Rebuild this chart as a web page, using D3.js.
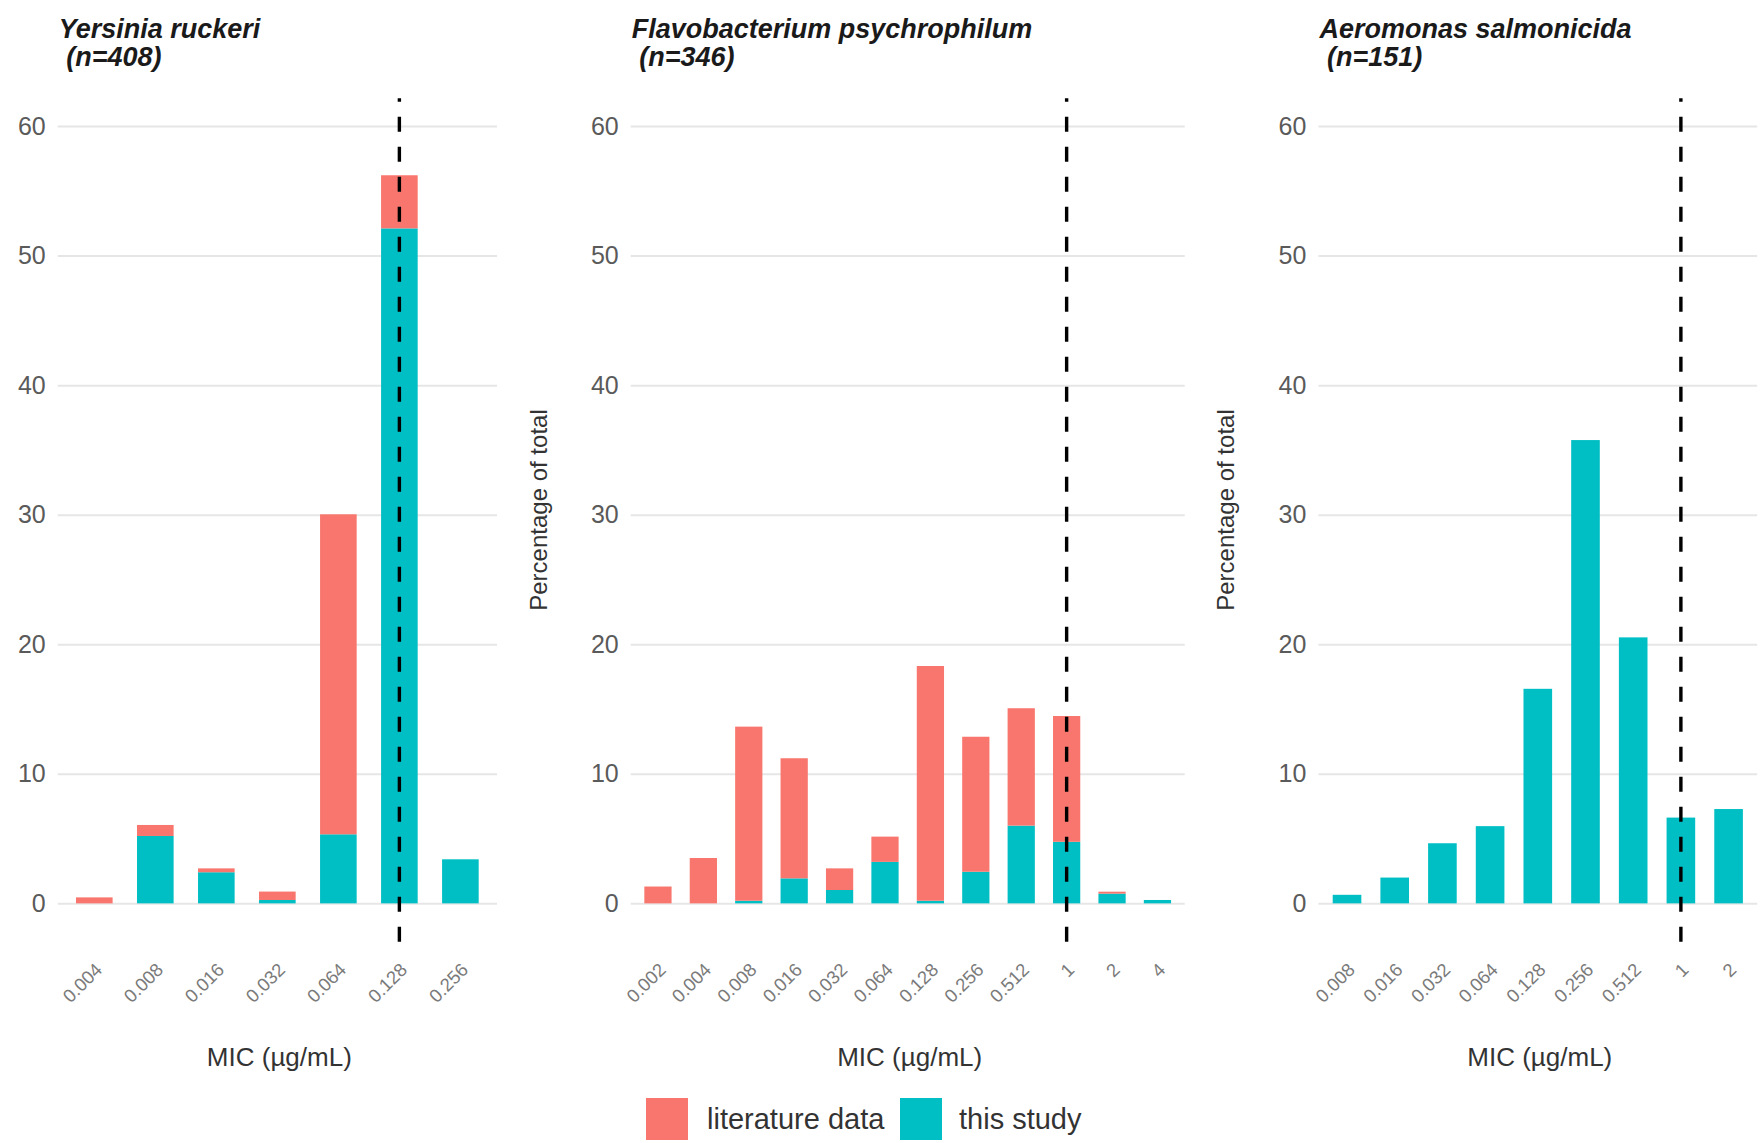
<!DOCTYPE html>
<html>
<head>
<meta charset="utf-8">
<script src="https://cdn.jsdelivr.net/npm/d3@7"></script>
<style>
  html, body { margin: 0; padding: 0; background: #ffffff; }
  svg { display: block; font-family: "Liberation Sans", Arial, Helvetica, sans-serif; }
</style>
</head>
<body>
<svg id="chart" width="1760" height="1143"></svg>
<script>
// ---------------- data ----------------
const yTicks = [0, 10, 20, 30, 40, 50, 60];
const seriesNames = ["literature data", "this study"];
const seriesColors = ["#F8766D", "#00BFC4"];

const titles = ["Yersinia ruckeri", "Flavobacterium psychrophilum", "Aeromonas salmonicida"];
const nLabels = [" (n=408)", " (n=346)", " (n=151)"];
const breakpoints = ["0.128", "1", "1"];

const categoriesYR = ["0.004", "0.008", "0.016", "0.032", "0.064", "0.128", "0.256"];
const studyYR      = [0,       5.2,     2.4,     0.26,    5.33,    52.1,    3.4];
const literatureYR = [0.46,    0.85,    0.3,     0.65,    24.7,    4.1,     0];

const categoriesFP = ["0.002", "0.004", "0.008", "0.016", "0.032", "0.064", "0.128", "0.256", "0.512", "1", "2", "4"];
const studyFP      = [0,       0,       0.2,     1.93,    1.03,    3.2,     0.2,     2.44,    6.0,     4.75, 0.75, 0.26];
const literatureFP = [1.3,     3.5,     13.44,   9.27,    1.67,    1.95,    18.12,   10.42,   9.06,    9.71, 0.15, 0];

const categoriesAS = ["0.008", "0.016", "0.032", "0.064", "0.128", "0.256", "0.512", "1", "2"];
const studyAS      = [0.66,    1.99,    4.64,    5.96,    16.56,   35.76,   20.53,   6.62, 7.28];
const literatureAS = [0,       0,       0,       0,       0,       0,       0,       0,    0];

// ---------------- layout ----------------
const panels = [
  { cats: categoriesYR, study: studyYR, lit: literatureYR, left: 57.7,  right: 497,    yTitle: false },
  { cats: categoriesFP, study: studyFP, lit: literatureFP, left: 630.7, right: 1184.7, yTitle: true },
  { cats: categoriesAS, study: studyAS, lit: literatureAS, left: 1318.4, right: 1757.2, yTitle: true }
];

const svg = d3.select("#chart");
const y = d3.scaleLinear().domain([-2.96, 62.14]).range([941.7, 98.3]);

panels.forEach((p, i) => {
  const g = svg.append("g");
  const x = d3.scaleBand().domain(p.cats).range([p.left, p.right])
    .paddingInner(0.4).paddingOuter(0.3);

  // gridlines
  const grid = g.append("g").attr("transform", `translate(${p.left},0)`)
    .call(d3.axisLeft(y).tickValues(yTicks).tickSize(-(p.right - p.left)).tickFormat(""));
  grid.select(".domain").remove();
  grid.selectAll("line").attr("stroke", "#e6e6e6").attr("stroke-width", 2);

  // y tick labels
  const ya = g.append("g").attr("transform", `translate(${p.left - 12},0)`)
    .call(d3.axisLeft(y).tickValues(yTicks).tickSize(0).tickPadding(0));
  ya.select(".domain").remove();
  ya.selectAll("text").attr("font-size", 25).attr("fill", "#5a5a5a")
    .attr("font-family", "'Liberation Sans', Arial, sans-serif");

  // stacked bars
  const rows = p.cats.map((c, k) => ({ cat: c, study: p.study[k], lit: p.lit[k] }));
  const stack = d3.stack().keys(["study", "lit"])(rows);
  const colorOf = { study: seriesColors[1], lit: seriesColors[0] };
  stack.forEach(layer => {
    g.append("g").selectAll("rect").data(layer.filter(d => d[1] - d[0] > 0)).join("rect")
      .attr("x", d => x(d.data.cat))
      .attr("width", x.bandwidth())
      .attr("y", d => y(d[1]))
      .attr("height", d => y(d[0]) - y(d[1]))
      .attr("fill", colorOf[layer.key]);
  });

  // breakpoint dashed line
  const bx = x(breakpoints[i]) + x.bandwidth() / 2;
  g.append("line")
    .attr("x1", bx).attr("x2", bx)
    .attr("y1", y.range()[0]).attr("y2", y.range()[1])
    .attr("stroke", "#000").attr("stroke-width", 3.4)
    .attr("stroke-dasharray", "15,15");

  // x tick labels
  const xa = g.append("g").attr("transform", "translate(0,962)")
    .call(d3.axisBottom(x).tickSize(0));
  xa.select(".domain").remove();
  xa.selectAll("text")
    .attr("x", 0).attr("y", 0).attr("dy", 0)
    .attr("transform", "translate(9,9) rotate(-45)")
    .attr("text-anchor", "end")
    .attr("font-size", 18.5).attr("fill", "#7a7a7a")
    .attr("font-family", "'Liberation Sans', Arial, sans-serif");

  // x axis title
  g.append("text")
    .attr("x", (p.left + p.right) / 2 + 2).attr("y", 1066)
    .attr("text-anchor", "middle").attr("font-size", 26).attr("fill", "#333")
    .text("MIC (µg/mL)");

  // y axis title
  if (p.yTitle) {
    g.append("text")
      .attr("transform", `translate(${p.left - 84},${510}) rotate(-90)`)
      .attr("text-anchor", "middle").attr("font-size", 24).attr("fill", "#333")
      .text("Percentage of total");
  }

  // panel title
  const t = g.append("text").attr("font-size", 27).attr("font-weight", "bold")
    .attr("font-style", "italic").attr("fill", "#1a1a1a").style("white-space", "pre");
  t.append("tspan").attr("x", p.left + 1).attr("y", 38).text(titles[i]);
  t.append("tspan").attr("x", p.left + 1).attr("y", 66).text(nLabels[i]);
});

// legend
const legend = svg.append("g");
const legendItems = [
  { name: seriesNames[0], color: seriesColors[0], rx: 646, tx: 707 },
  { name: seriesNames[1], color: seriesColors[1], rx: 900, tx: 959 }
];
legendItems.forEach(it => {
  legend.append("rect").attr("x", it.rx).attr("y", 1098).attr("width", 42).attr("height", 42)
    .attr("fill", it.color);
  legend.append("text").attr("x", it.tx).attr("y", 1129).attr("font-size", 29)
    .attr("fill", "#333").text(it.name);
});
</script>
</body>
</html>
